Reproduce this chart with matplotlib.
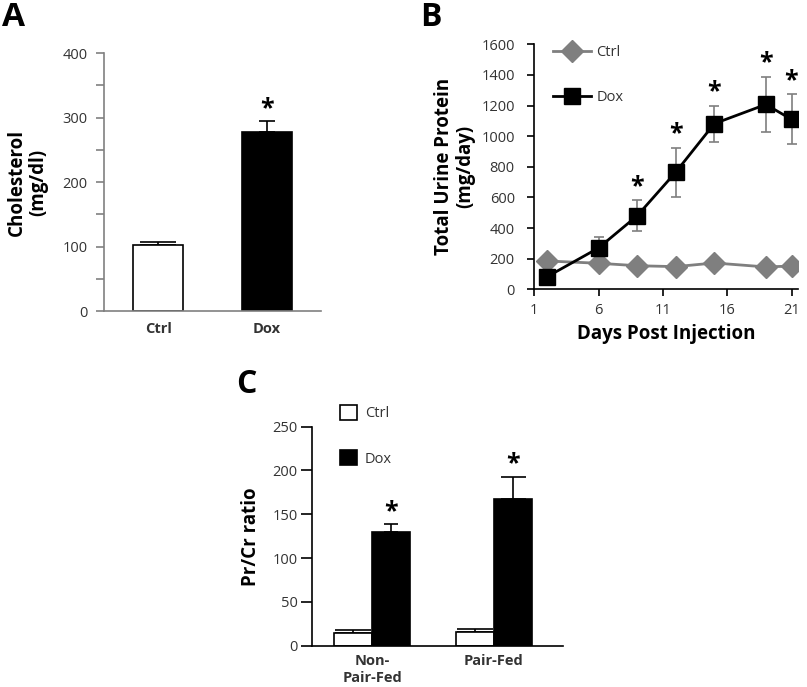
import matplotlib
matplotlib.use('Agg')
import numpy as np
import matplotlib.pyplot as plt
from matplotlib.ticker import MultipleLocator

plt.rcParams['font.family'] = ['Open Sans', 'DejaVu Sans']

# Panel A: cholesterol
a_groups = ['Ctrl', 'Dox']
a_means = [103, 277]
a_errs = [4, 17]
a_sig = [False, True]

# Panel B: urine protein time course
b_days = [2, 6, 9, 12, 15, 19, 21]
b_ctrl = [185, 170, 154, 148, 172, 146, 152]
b_dox = [82, 270, 480, 765, 1082, 1207, 1110]
b_dox_err = [20, 70, 100, 160, 117, 182, 163]
b_sig_days = [9, 12, 15, 19, 21]

# Panel C: Pr/Cr ratio
c_groups = ['Non-\nPair-Fed', 'Pair-Fed']
c_ctrl = [14, 15.3]
c_ctrl_err = [4.5, 3.5]
c_dox = [129.5, 167]
c_dox_err = [9, 26]

tick_col = '#333333'
axis_grey = '#808080'

fig = plt.figure(figsize=(8.07, 6.87), dpi=100)


def style_axes(ax, spine_col, pad, length=5):
    for s in ['top', 'right']:
        ax.spines[s].set_visible(False)
    for s in ['left', 'bottom']:
        ax.spines[s].set_color(spine_col)
        ax.spines[s].set_linewidth(1.2)
    ax.tick_params(colors=spine_col, labelcolor=tick_col, labelsize=10.5,
                   direction='out', length=length, width=1.2, pad=pad)


def star(ax, x, y, off=9):
    ax.annotate('*', (x, y), xytext=(0, off), textcoords='offset points',
                ha='center', va='center', fontsize=18, fontweight='bold')


########## A ##########
axA = fig.add_axes([0.1289, 0.5473, 0.2689, 0.3755])
xa = np.arange(len(a_groups))
axA.bar(xa, a_means, width=0.46, color=['white', 'black'],
        edgecolor='black', linewidth=1.2, zorder=2)
for i in range(len(xa)):
    axA.errorbar(xa[i], a_means[i], yerr=[[0], [a_errs[i]]], fmt='none',
                 ecolor='black', elinewidth=1.2, capsize=[13, 6][i],
                 capthick=1.2, zorder=1)
    if a_sig[i]:
        star(axA, xa[i], a_means[i] + a_errs[i])
axA.set_xlim(-0.5, 1.5)
axA.set_ylim(0, 400)
axA.yaxis.set_major_locator(MultipleLocator(100))
axA.yaxis.set_minor_locator(MultipleLocator(50))
axA.set_xticks(xa)
axA.set_xticklabels(a_groups, fontweight='bold', color='black', fontsize=10.5)
style_axes(axA, axis_grey, pad=6, length=6)
axA.tick_params(axis='y', which='minor', length=6, width=1.2, colors=axis_grey)
axA.tick_params(axis='x', length=0, pad=8)
axA.set_ylabel('Cholesterol\n(mg/dl)', fontsize=13.5, fontweight='bold',
               linespacing=1.1, labelpad=10)
fig.text(0.003, 0.975, 'A', fontsize=24, fontweight='bold', va='center')

########## B ##########
axB = fig.add_axes([0.662, 0.5789, 0.3268, 0.3566])
axB.plot(b_days, b_ctrl, color='#7f7f7f', lw=2, marker='D', ms=11,
         label='Ctrl', zorder=3)
axB.errorbar(b_days, b_dox, yerr=b_dox_err, fmt='none', ecolor='#7f7f7f',
             elinewidth=1.2, capsize=3.5, capthick=1.2, zorder=2)
axB.plot(b_days, b_dox, color='black', lw=2, marker='s', ms=12,
         label='Dox', zorder=4)
for d in b_sig_days:
    i = b_days.index(d)
    star(axB, d, b_dox[i] + b_dox_err[i], off=10)
axB.set_xlim(1, 21.5)
axB.set_ylim(0, 1600)
axB.set_xticks([1, 6, 11, 16, 21])
axB.yaxis.set_major_locator(MultipleLocator(200))
style_axes(axB, 'black', pad=9)
axB.tick_params(axis='x', pad=5)
axB.set_ylabel('Total Urine Protein\n(mg/day)', fontsize=13.5,
               fontweight='bold', linespacing=1.1, labelpad=4)
axB.set_xlabel('Days Post Injection', fontsize=13.5, fontweight='bold',
               labelpad=4)
axB.legend(loc='upper left', bbox_to_anchor=(0.02, 1.05), frameon=False,
           fontsize=10.5, handlelength=2.6, labelspacing=2.05,
           handletextpad=0.4, labelcolor=tick_col)
fig.text(0.52, 0.975, 'B', fontsize=23, fontweight='bold', va='center')

########## C ##########
axC = fig.add_axes([0.3862, 0.0601, 0.3114, 0.3188])
xc = np.arange(len(c_groups))
bw = 0.312
axC.bar(xc - bw / 2, c_ctrl, width=bw, color='white', edgecolor='black',
        linewidth=1.2, label='Ctrl', zorder=2)
axC.bar(xc + bw / 2, c_dox, width=bw, color='black', edgecolor='black',
        linewidth=1.2, label='Dox', zorder=2)
for i in range(len(xc)):
    axC.errorbar(xc[i] - bw / 2, c_ctrl[i], yerr=[[0], [c_ctrl_err[i]]],
                 fmt='none', ecolor='black', elinewidth=1.2, capsize=13,
                 capthick=1.2, zorder=1)
    axC.errorbar(xc[i] + bw / 2, c_dox[i], yerr=[[0], [c_dox_err[i]]],
                 fmt='none', ecolor='black', elinewidth=1.2,
                 capsize=[5, 9][i], capthick=1.2, zorder=1)
    star(axC, xc[i] + bw / 2, c_dox[i] + c_dox_err[i])
axC.set_xlim(-0.498, 1.567)
axC.set_ylim(0, 250)
axC.yaxis.set_major_locator(MultipleLocator(50))
axC.set_xticks(xc)
axC.set_xticklabels(c_groups, fontweight='bold', color='black', fontsize=10.5,
                    linespacing=1.3)
style_axes(axC, 'black', pad=2, length=8)
axC.tick_params(axis='x', length=0, pad=6)
axC.set_ylabel('Pr/Cr ratio', fontsize=13.5, fontweight='bold', labelpad=8)
axC.legend(loc='upper left', bbox_to_anchor=(0.06, 1.16), frameon=False,
           fontsize=10.5, handlelength=1.2, handleheight=1.2,
           labelspacing=2.0, handletextpad=0.5, labelcolor=tick_col)
fig.text(0.292, 0.44, 'C', fontsize=23, fontweight='bold', va='center')

plt.savefig('out.png', dpi=100)
